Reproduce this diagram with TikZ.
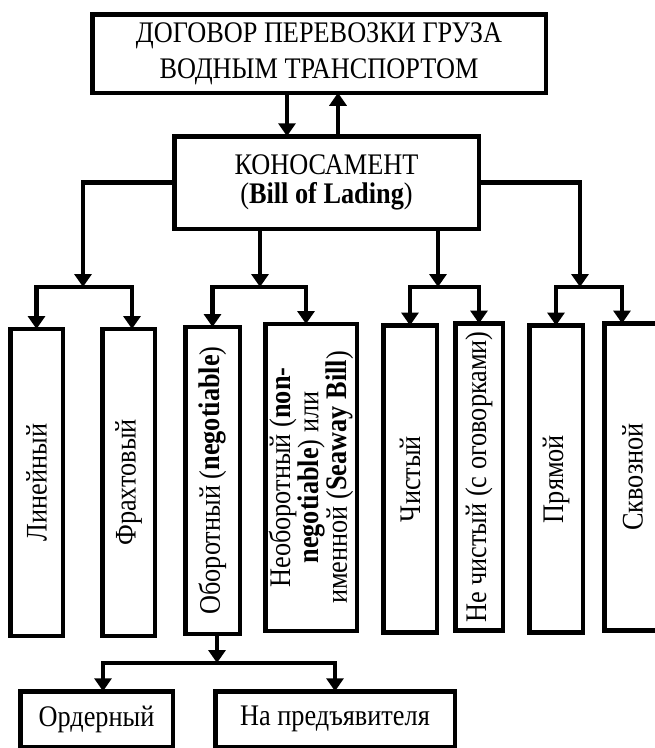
\documentclass[tikz,border=0pt]{standalone}
\usepackage{fontspec}
\setmainfont{Liberation Serif}[FakeStretch=0.88]
\usetikzlibrary{arrows.meta}
\newcommand{\pxu}{0.03cm}
\tikzset{
  box/.style={draw, line width=0.135cm, inner sep=0pt, outer sep=0pt, align=center,
    font=\fontsize{25.5}{31}\selectfont},
  vbox/.style={box, minimum height=307*\pxu},
  lbl/.style={rotate=90, inner sep=0pt, align=center, font=\fontsize{25.5}{20}\selectfont},
  arr/.style={line width=0.135cm, -{Triangle[width=0.51cm,length=0.39cm]}}
}
\begin{document}
\begin{tikzpicture}[x=0.03cm,y=-0.03cm]
\useasboundingbox (0,0) rectangle (655,748);
% top level
\node[box, minimum width=453.5*\pxu, minimum height=78.5*\pxu] (dog) at (319,53.5)
  {ДОГОВОР ПЕРЕВОЗКИ ГРУЗА\\ВОДНЫМ ТРАНСПОРТОМ};
\node[box, minimum width=304.5*\pxu, minimum height=92.5*\pxu,
  font=\fontsize{25.5}{25}\selectfont] (kon) at (326.5,182.5)
  {КОНОСАМЕНТ\\(\textbf{Bill of Lading})};
% kinds of bill
\node[vbox, minimum width=52.5*\pxu, label={[lbl]center:Линейный}] (lin) at (36.5,482.5) {};
\node[vbox, minimum width=52.5*\pxu, label={[lbl]center:Фрахтовый}] (fra) at (128.5,482.5) {};
\node[vbox, minimum width=54.5*\pxu, label={[lbl]center:{Оборотный (\textbf{negotiable})}}] (obo) at (212.5,480.5) {};
\node[vbox, minimum width=91.5*\pxu, label={[lbl]center:{Необоротный (\textbf{non-}\\\textbf{negotiable}) или\\именной (\textbf{Seaway Bill})}}] (neo) at (311,477.5) {};
\node[vbox, minimum width=53.5*\pxu, label={[lbl]center:Чистый}] (chi) at (410,479) {};
\node[vbox, minimum width=47.5*\pxu, label={[lbl]center:{Не чистый (с оговорками)}}] (nch) at (479,477) {};
\node[vbox, minimum width=53.5*\pxu, label={[lbl]center:Прямой}] (pry) at (556,479) {};
\node[vbox, minimum width=56.5*\pxu, label={[lbl]center:Сквозной}] (skv) at (632.5,477) {};
% negotiable split
\node[box, minimum width=152.5*\pxu, minimum height=55.5*\pxu] (ord) at (96.5,719) {Ордерный};
\node[box, minimum width=239.5*\pxu, minimum height=55.5*\pxu] (pred) at (335,719) {На предъявителя};

\coordinate (s1) at (83,287);
\coordinate (s2) at (260,287);
\coordinate (s3) at (438,287);
\coordinate (s4) at (580,287);
\coordinate (s5) at (217,663);

\draw[arr] ([xshift=-32*\pxu]dog.south) -- ([xshift=-39.5*\pxu]kon.north);
\draw[arr] ([xshift=11.5*\pxu]kon.north) -- ([xshift=19*\pxu]dog.south);

\draw[arr] (kon.west) -| (s1);
\draw[arr] (kon.south -| s2) -- (s2);
\draw[arr] (kon.south -| s3) -- (s3);
\draw[arr] (kon.east) -| (s4);

\draw[arr] (s1) -| (lin.north);
\draw[arr] (s1) -| ([xshift=3.5*\pxu]fra.north);
\draw[arr] (s2) -| (obo.north);
\draw[arr] (s2) -| ([xshift=-5*\pxu]neo.north);
\draw[arr] (s3) -| (chi.north);
\draw[arr] (s3) -| (nch.north);
\draw[arr] (s4) -| (pry.north);
\draw[arr] (s4) -| ([xshift=-10.5*\pxu]skv.north);

\draw[arr] (obo.south -| s5) -- (s5);
\draw[arr] (s5) -| ([xshift=6.5*\pxu]ord.north);
\draw[arr] (s5) -| (pred.north);
\end{tikzpicture}
\end{document}
